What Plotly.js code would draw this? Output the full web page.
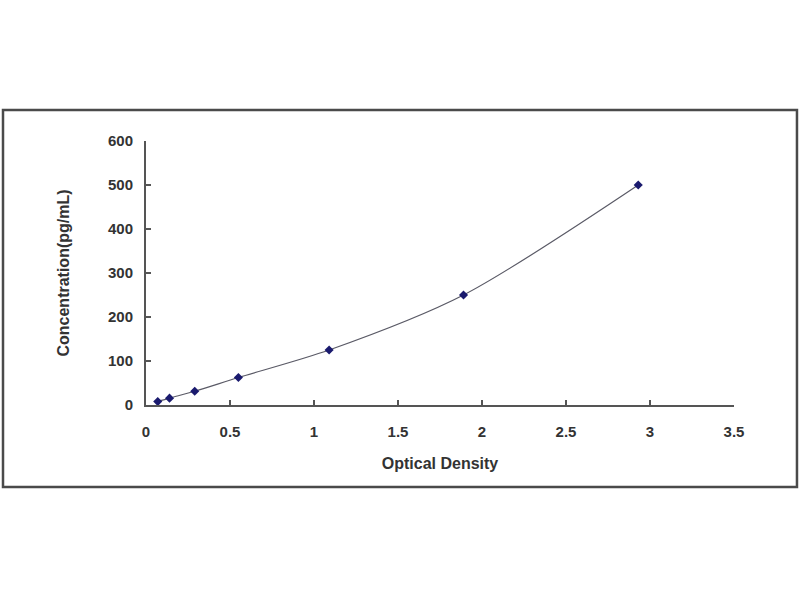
<!DOCTYPE html>
<html>
<head>
<meta charset="utf-8">
<script src="https://cdn.plot.ly/plotly-3.0.1.min.js"></script>
<style>
  html, body { margin: 0; padding: 0; background: #ffffff; }
  #plot { width: 800px; height: 600px; }
</style>
</head>
<body>
<div id="plot"></div>
<script>
// standard curve: optical density vs concentration
const opticalDensity = [0.07, 0.14, 0.29, 0.55, 1.09, 1.89, 2.93];
const concentration = [7.8, 15.6, 31.25, 62.5, 125, 250, 500];

const xTicks = [0, 0.5, 1, 1.5, 2, 2.5, 3, 3.5];
const xTickText = ["0", "0.5", "1", "1.5", "2", "2.5", "3", "3.5"];
const yTicks = [0, 100, 200, 300, 400, 500, 600];

const FONT = "Liberation Sans, Arial, sans-serif";

const curve = {
  type: "scatter",
  mode: "lines+markers",
  x: opticalDensity,
  y: concentration,
  line: { color: "#5a5a66", width: 1.2, shape: "spline", smoothing: 0.8 },
  marker: { symbol: "diamond", size: 7, color: "#1a1a6e" },
  hoverinfo: "x+y",
};

const axisCommon = {
  showgrid: false,
  zeroline: false,
  showline: true,
  linecolor: "#555555",
  linewidth: 2,
  ticks: "inside",
  ticklen: 5,
  tickwidth: 1.5,
  tickcolor: "#555555",
  tickfont: { family: FONT, size: 15, color: "#333333", weight: "bold" },
};

const layout = {
  width: 800,
  height: 600,
  paper_bgcolor: "#ffffff",
  plot_bgcolor: "#ffffff",
  showlegend: false,
  margin: { l: 146, r: 66, t: 141, b: 195 },
  xaxis: {
    ...axisCommon,
    range: [0, 3.5],
    tickvals: xTicks,
    ticktext: xTickText,
    ticklabelstandoff: 12,
    title: {
      text: "Optical Density",
      font: { family: FONT, size: 16, color: "#333333", weight: "bold" },
      standoff: 19,
    },
  },
  yaxis: {
    ...axisCommon,
    range: [0, 600],
    tickvals: yTicks,
    ticklabelstandoff: 8,
    title: {
      text: "Concentration(pg/mL)",
      font: { family: FONT, size: 16, color: "#333333", weight: "bold" },
      standoff: 34,
    },
  },
  shapes: [
    {
      type: "rect",
      xref: "paper",
      yref: "paper",
      x0: -0.2432,
      x1: 1.1071,
      y0: -0.3106,
      y1: 1.1174,
      line: { color: "#4a4a4a", width: 2.5 },
      fillcolor: "rgba(0,0,0,0)",
      layer: "below",
    },
  ],
};

Plotly.newPlot("plot", [curve], layout, { displayModeBar: false, staticPlot: true });
</script>
</body>
</html>
